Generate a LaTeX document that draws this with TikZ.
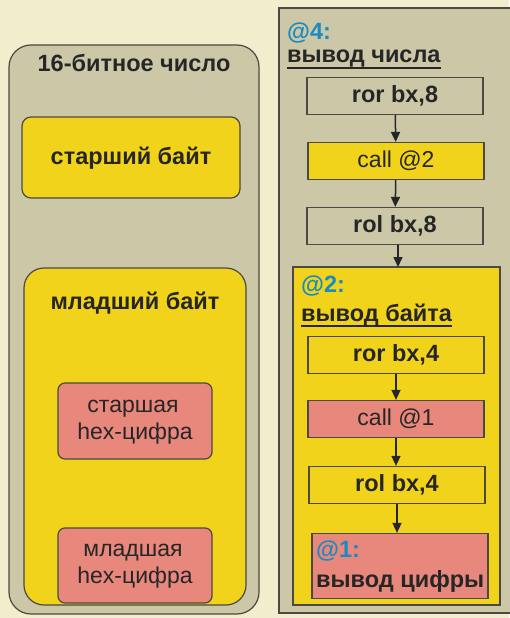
\documentclass[tikz,border=0pt]{standalone}
\usepackage{fontspec}
\setmainfont{Liberation Sans}
\usetikzlibrary{arrows.meta}
\definecolor{bgc}{HTML}{F1EDCD}
\definecolor{grayc}{HTML}{CBC7A7}
\definecolor{yel}{HTML}{F2D31B}
\definecolor{sal}{HTML}{E8877B}
\definecolor{blu}{HTML}{1A8BC0}
\definecolor{edge}{HTML}{4A4A42}
\definecolor{txt}{HTML}{262626}
\tikzset{
  box/.style={draw=edge, line width=1.2pt},
  rbox/.style={box, rounded corners=#1},
  bigb/.style={font=\bfseries\fontsize{23.5}{26}\selectfont},
  reg/.style={font=\fontsize{23}{26}\selectfont},
  instr/.style={draw=edge, line width=1.2pt, minimum width=176pt, minimum height=37pt, inner sep=0pt, text=txt},
  conn/.style={-{Triangle[length=10pt,width=9pt]}, line width=1.5pt, draw=txt},
  lbl/.style={inner sep=0pt, text=txt},
  uline/.style={draw=txt, line width=1.7pt},
}
\begin{document}
\begin{tikzpicture}[x=1pt,y=-1pt]
\useasboundingbox (0,0) rectangle (509,618);
\fill[bgc] (0,0) rectangle (509,618);
% left column
\draw[rbox=22pt, fill=grayc] (9,45) rectangle (259,614);
\node[lbl, bigb, anchor=base] (t16) at (134,71) {16-битное число};
\draw[rbox=9pt, fill=yel] (22,117) rectangle (240,198);
\node[lbl, bigb, anchor=base] (hb) at (131,164) {старший байт};
\draw[rbox=20pt, fill=yel] (24,268) rectangle (246,605);
\node[lbl, bigb, anchor=base] (lb) at (135,309) {младший байт};
\draw[rbox=7pt, fill=sal] (58,383) rectangle (212,459);
\node[lbl, reg, anchor=base] (hh1) at (133,412) {старшая};
\node[lbl, reg, anchor=base] (hh2) at (135,439) {hex-цифра};
\draw[rbox=7pt, fill=sal] (58,528) rectangle (212,603);
\node[lbl, reg, anchor=base] (lh1) at (133,556) {младшая};
\node[lbl, reg, anchor=base] (lh2) at (135,583) {hex-цифра};
% right column
\draw[box, fill=grayc] (279,8) rectangle (512,613);
\node[lbl, bigb, anchor=base west, text=blu] (a4) at (287,40) {@4:};
\node[lbl, bigb, anchor=base west] (a4t) at (287,63) {вывод числа};
\draw[uline] ([yshift=-5pt]a4t.base west) -- ([yshift=-5pt]a4t.base east);
\node[instr, fill=grayc, bigb] (r8) at (395,96) {ror bx,8};
\node[instr, fill=yel, reg] (c2) at (396,161) {call @2};
\node[instr, fill=grayc, bigb] (l8) at (395,226) {rol bx,8};
\draw[box, fill=yel] (293,267) rectangle (500,605);
\coordinate (y2top) at (398,267);
\node[lbl, bigb, anchor=base west, text=blu] (a2) at (301,292) {@2:};
\node[lbl, bigb, anchor=base west] (a2t) at (301,321) {вывод байта};
\draw[uline] ([yshift=-5pt]a2t.base west) -- ([yshift=-5pt]a2t.base east);
\node[instr, fill=yel, bigb] (r4) at (396,355) {ror bx,4};
\node[instr, fill=sal, reg] (c1) at (396,419) {call @1};
\node[instr, fill=yel, bigb] (l4) at (397,485) {rol bx,4};
\node[box, fill=sal, minimum width=176pt, minimum height=65pt, inner sep=0pt] (d1) at (400,566) {};
\node[lbl, bigb, anchor=base west, text=blu] (a1) at (316,557) {@1:};
\node[lbl, bigb, anchor=base west] (a1t) at (316,587) {вывод цифры};
\draw[conn] (r8) -- (c2);
\draw[conn] (c2) -- (l8);
\draw[conn] (l8.south -| y2top) -- (y2top);
\draw[conn] (r4) -- (c1);
\draw[conn] (c1) -- (c1.south |- l4.north);
\draw[conn] (l4) -- (l4.center |- d1.north);
\end{tikzpicture}
\end{document}
